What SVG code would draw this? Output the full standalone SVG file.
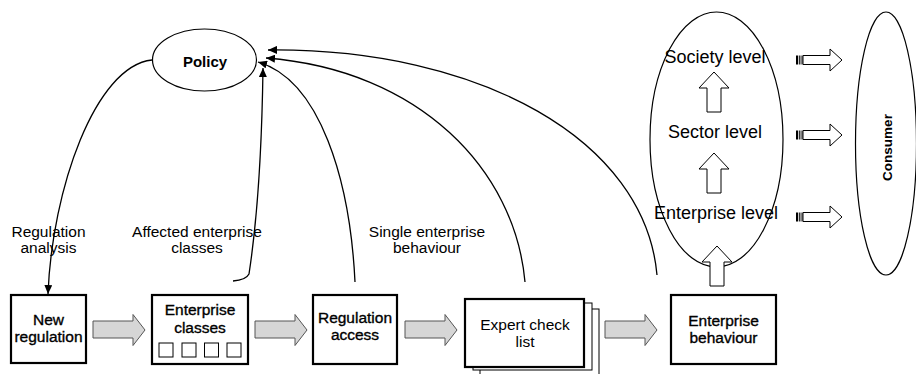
<svg xmlns="http://www.w3.org/2000/svg" width="916" height="374" viewBox="0 0 916 374">
  <style>
    .lbl { font-family: "Liberation Sans", Arial, sans-serif; font-size: 15.5px; fill: #000; text-anchor: middle; }
    .boxlbl { stroke: #000; stroke-width: 0.35; }
    .box { fill: #fff; stroke: #000; stroke-width: 2.2; }
    .sheet { fill: #fff; stroke: #000; stroke-width: 1; }
    .conn { fill: none; stroke: #000; stroke-width: 1.3; }
    .block { fill: #d6d6d6; stroke: #555; stroke-width: 1; }
    .hollow { fill: #fff; stroke: #000; stroke-width: 1; }
    .oval { fill: none; stroke: #000; stroke-width: 1.2; }
    .level { font-family: "Liberation Sans", Arial, sans-serif; font-size: 18px; fill: #000; text-anchor: middle; }
  </style>
  <defs>
    <marker id="tip" markerWidth="10" markerHeight="8" refX="9" refY="4" orient="auto" markerUnits="userSpaceOnUse">
      <path d="M0,0 L9,4 L0,8 Z" fill="#000"/>
    </marker>
    <!-- grey block arrow, tail at origin, pointing right -->
    <path id="blockArrow" d="M0,-9 L40,-9 L40,-15.5 L52,0 L40,15.5 L40,8 L0,8 Z"/>
    <!-- hollow arrow with striped tail -->
    <g id="stripeArrow">
      <rect x="-1" y="-4.5" width="2.2" height="9" fill="#000"/>
      <rect x="2.2" y="-4.5" width="1.2" height="9" fill="#000"/>
      <rect x="4.5" y="-4.5" width="1" height="9" fill="#000"/>
      <path class="hollow" d="M6,-4.5 L33,-4.5 L33,-11 L45,0 L33,11 L33,4.5 L6,4.5 Z"/>
    </g>
    <!-- hollow up arrow, tip at origin -->
    <path id="upArrow" d="M0,0 L15,16 L7,16 L7,40 L-7,40 L-7,16 L-15,16 Z"/>
  </defs>

  <!-- policy node -->
  <g id="policy">
    <ellipse class="oval" cx="204.5" cy="60" rx="52" ry="31"/>
    <text x="205" y="67" font-family="Liberation Sans, Arial, sans-serif" font-size="15" font-weight="bold" text-anchor="middle">Policy</text>
  </g>

  <!-- levels: enterprise, sector, society -->
  <g id="levels">
    <ellipse class="oval" cx="716.5" cy="139.5" rx="66.5" ry="127.5"/>
    <text class="level" x="715" y="63">Society level</text>
    <use href="#upArrow" class="hollow" x="714" y="72"/>
    <text class="level" x="715" y="138">Sector level</text>
    <use href="#upArrow" class="hollow" x="714" y="153"/>
    <text class="level" x="716" y="219">Enterprise level</text>
  </g>

  <!-- consumer node -->
  <g id="consumer">
    <ellipse class="oval" cx="886" cy="143.5" rx="30.5" ry="131.5"/>
    <text transform="translate(892,147.5) rotate(-90)" font-family="Liberation Sans, Arial, sans-serif" font-size="13.5" font-weight="bold" text-anchor="middle">Consumer</text>
  </g>

  <!-- process boxes -->
  <g id="new-regulation">
    <rect class="box" x="11" y="295" width="75" height="68"/>
    <text class="lbl boxlbl" x="48.5" y="325">New</text>
    <text class="lbl boxlbl" x="48.5" y="342">regulation</text>
  </g>

  <g id="enterprise-classes">
    <rect class="box" x="152" y="295" width="96" height="69"/>
    <text class="lbl boxlbl" x="200" y="315">Enterprise</text>
    <text class="lbl boxlbl" x="200" y="333">classes</text>
    <rect class="sheet" x="159" y="343" width="14" height="14"/>
    <rect class="sheet" x="182" y="343" width="14" height="14"/>
    <rect class="sheet" x="204.5" y="343" width="14" height="14"/>
    <rect class="sheet" x="227" y="343" width="14" height="14"/>
  </g>

  <g id="regulation-access">
    <rect class="box" x="313" y="295" width="84" height="69"/>
    <text class="lbl boxlbl" x="355" y="323">Regulation</text>
    <text class="lbl boxlbl" x="355" y="340">access</text>
  </g>

  <g id="expert-check-list">
    <rect class="sheet" x="480" y="309" width="119" height="75"/>
    <rect class="sheet" x="473" y="303" width="119" height="67"/>
    <rect class="box" x="465" y="299" width="119" height="68"/>
    <text class="lbl" x="525" y="330" fill="#222">Expert check</text>
    <text class="lbl" x="525" y="347" fill="#222">list</text>
  </g>

  <g id="enterprise-behaviour">
    <rect class="box" x="671" y="295" width="105" height="69"/>
    <text class="lbl boxlbl" x="723.5" y="326">Enterprise</text>
    <text class="lbl boxlbl" x="723.5" y="343">behaviour</text>
  </g>

  <!-- connector labels -->
  <g id="labels">
    <text class="lbl" x="48.5" y="237">Regulation</text>
    <text class="lbl" x="48.5" y="253">analysis</text>
    <text class="lbl" x="197" y="237">Affected enterprise</text>
    <text class="lbl" x="197" y="253">classes</text>
    <text class="lbl" x="427" y="237">Single enterprise</text>
    <text class="lbl" x="427" y="253">behaviour</text>
  </g>

  <!-- connectors -->
  <g id="connectors">
    <path class="conn" d="M152,60 C95,66 52,190 48,294" marker-end="url(#tip)"/>
    <path class="conn" d="M233,281 Q246,280 249,274 C258,215 262,140 263,68" marker-end="url(#tip)"/>
    <path class="conn" d="M355,282 C350,180 320,80 258,62" marker-end="url(#tip)"/>
    <path class="conn" d="M525,282 C515,170 420,70 266,58" marker-end="url(#tip)"/>
    <path class="conn" d="M657,275 C645,140 480,48 268,50" marker-end="url(#tip)"/>

    <use href="#blockArrow" class="block" x="93" y="330"/>
    <use href="#blockArrow" class="block" x="255" y="330"/>
    <use href="#blockArrow" class="block" x="405" y="330"/>
    <use href="#blockArrow" class="block" x="605" y="330"/>

    <use href="#upArrow" class="hollow" x="717" y="246"/>

    <use href="#stripeArrow" x="797" y="60"/>
    <use href="#stripeArrow" x="797" y="135"/>
    <use href="#stripeArrow" x="797" y="217"/>
  </g>
</svg>
